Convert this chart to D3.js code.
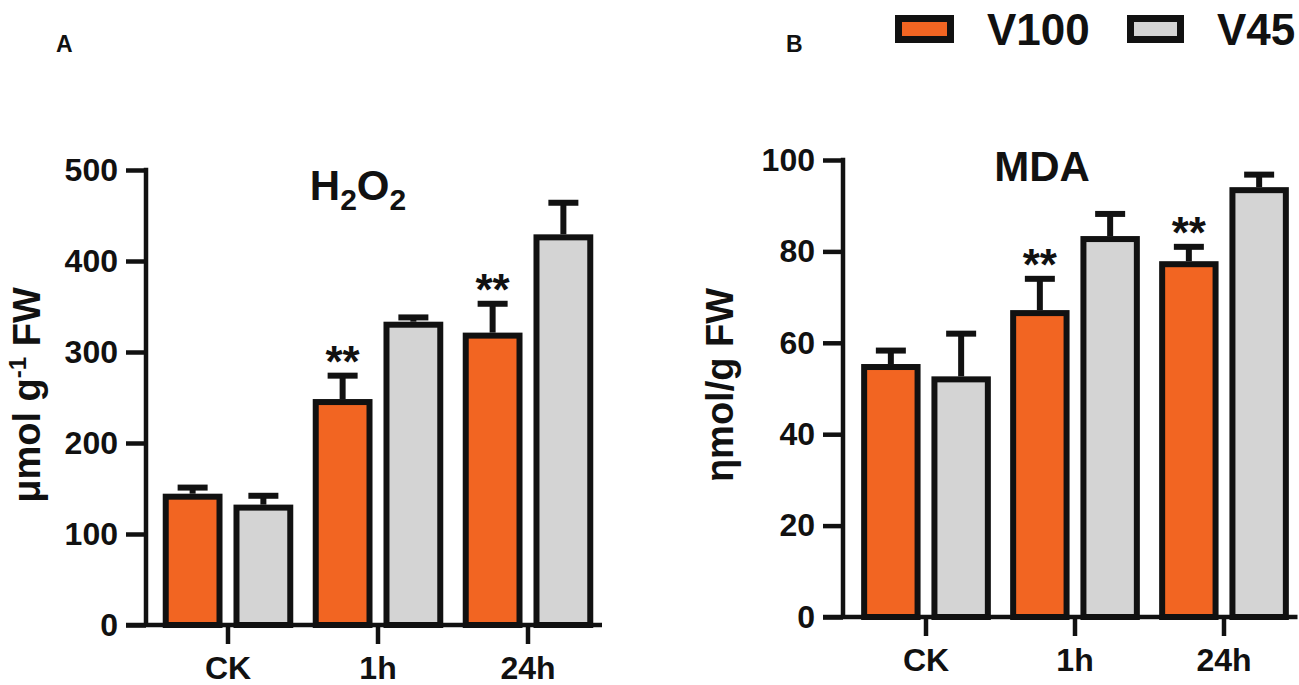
<!DOCTYPE html>
<html>
<head>
<meta charset="utf-8">
<script src="https://cdn.jsdelivr.net/npm/d3@7"></script>
<style>
  body { margin: 0; background: #fff; }
  svg { display: block; }
  text { font-family: "Liberation Sans", Arial, sans-serif; font-weight: bold; fill: #111; }
</style>
</head>
<body>
<svg id="chart" width="1299" height="685"></svg>
<script>
var categories = ["CK", "1h", "24h"];
var series = ["V100", "V45"];
var colors = ["#F26522", "#D4D4D4"];

// H2O2 (umol g-1 FW)
var h2o2V100 = [141, 245, 318];
var h2o2V100Err = [10, 29, 35];
var h2o2V45 = [129, 330, 426];
var h2o2V45Err = [13, 8, 38];
var h2o2Ticks = [0, 100, 200, 300, 400, 500];
var h2o2Stars = [false, true, true]; // on V100 bars

// MDA (nmol/g FW)
var mdaV100 = [54.7, 66.5, 77.2];
var mdaV100Err = [3.6, 7.5, 3.8];
var mdaV45 = [52, 82.7, 93.4];
var mdaV45Err = [10, 5.5, 3.4];
var mdaTicks = [0, 20, 40, 60, 80, 100];
var mdaStars = [false, true, true];

var svg = d3.select("#chart");
var ink = "#111";

function drawPanel(p) {
  var g = svg.append("g");
  var y = d3.scaleLinear().domain([0, p.max]).range([p.bottom, p.top]);
  var x0 = d3.scaleBand().domain(categories).range([p.left, p.right]);
  var x1 = d3.scaleBand().domain(series).range([0, x0.bandwidth()])
      .paddingInner(0.24).paddingOuter(0.18);

  var rows = [];
  categories.forEach(function(c, i) {
    series.forEach(function(s, j) {
      rows.push({cat: c, ser: s, j: j, v: p.vals[j][i], e: p.errs[j][i],
                 star: j === 0 && p.stars[i]});
    });
  });

  var bar = g.selectAll("g.bar").data(rows).enter().append("g").attr("class", "bar");

  bar.append("rect")
      .attr("x", function(d) { return x0(d.cat) + x1(d.ser); })
      .attr("y", function(d) { return y(d.v); })
      .attr("width", x1.bandwidth())
      .attr("height", function(d) { return y(0) - y(d.v); })
      .attr("fill", function(d) { return colors[d.j]; })
      .attr("stroke", ink)
      .attr("stroke-width", 6);

  // error bars, upward only
  bar.append("line")
      .attr("x1", function(d) { return x0(d.cat) + x1(d.ser) + x1.bandwidth() / 2; })
      .attr("x2", function(d) { return x0(d.cat) + x1(d.ser) + x1.bandwidth() / 2; })
      .attr("y1", function(d) { return y(d.v) - 3; })
      .attr("y2", function(d) { return y(d.v + d.e); })
      .attr("stroke", ink).attr("stroke-width", 6);
  bar.append("line")
      .attr("x1", function(d) { return x0(d.cat) + x1(d.ser) + x1.bandwidth() / 2 - 15; })
      .attr("x2", function(d) { return x0(d.cat) + x1(d.ser) + x1.bandwidth() / 2 + 15; })
      .attr("y1", function(d) { return y(d.v + d.e); })
      .attr("y2", function(d) { return y(d.v + d.e); })
      .attr("stroke", ink).attr("stroke-width", 6);

  bar.filter(function(d) { return d.star; }).append("text")
      .attr("x", function(d) { return x0(d.cat) + x1(d.ser) + x1.bandwidth() / 2; })
      .attr("y", function(d) { return y(d.v + d.e) + 1; })
      .attr("text-anchor", "middle")
      .attr("font-size", 44)
      .text("**");

  // y axis
  var ya = g.append("g")
      .attr("transform", "translate(" + p.axisX + ",0)")
      .call(d3.axisLeft(y).tickValues(p.ticks).tickSize(20).tickSizeOuter(0).tickPadding(8));
  ya.select(".domain").remove();
  ya.selectAll("line").attr("stroke", ink).attr("stroke-width", 4.5);
  ya.selectAll("text").attr("font-size", 32).attr("font-family", null).attr("fill", ink);
  ya.append("line")
      .attr("x1", 0).attr("x2", 0)
      .attr("y1", y(p.max) - 2.25).attr("y2", y(0))
      .attr("stroke", ink).attr("stroke-width", 4.5);

  // x axis
  var xa = g.append("g")
      .attr("transform", "translate(0," + y(0) + ")")
      .call(d3.axisBottom(x0).tickSize(19).tickSizeOuter(0).tickPadding(12));
  xa.select(".domain").remove();
  xa.selectAll("line").attr("stroke", ink).attr("stroke-width", 4.5);
  xa.selectAll("text").attr("font-size", 32).attr("font-family", null).attr("fill", ink);
  xa.append("line")
      .attr("x1", p.axisX - 20).attr("x2", p.right - 1)
      .attr("y1", 0).attr("y2", 0)
      .attr("stroke", ink).attr("stroke-width", 4.5);

  // y label
  var ylab = g.append("text")
      .attr("transform", "translate(" + p.ylabX + "," + p.ylabY + ") rotate(-90)")
      .attr("text-anchor", "middle")
      .attr("font-size", 38);
  p.ylab(ylab);

  // title
  var t = g.append("text")
      .attr("x", p.titleX).attr("y", p.titleY)
      .attr("text-anchor", "middle")
      .attr("font-size", 42);
  p.title(t);

  g.append("text").attr("x", p.tagX).attr("y", 52).attr("font-size", 23).text(p.tag);
}

drawPanel({
  max: 500, ticks: h2o2Ticks, top: 170, bottom: 625,
  left: 153, right: 603, axisX: 146,
  vals: [h2o2V100, h2o2V45], errs: [h2o2V100Err, h2o2V45Err], stars: h2o2Stars,
  ylabX: 40, ylabY: 395,
  ylab: function(t) {
    t.append("tspan").text("\u03bcmol g");
    t.append("tspan").attr("font-size", 24).attr("dy", -14).text("-1");
    t.append("tspan").attr("dy", 14).text(" FW");
  },
  titleX: 358, titleY: 200,
  title: function(t) {
    t.append("tspan").text("H");
    t.append("tspan").attr("font-size", 30).attr("dy", 10).text("2");
    t.append("tspan").attr("dy", -10).text("O");
    t.append("tspan").attr("font-size", 30).attr("dy", 10).text("2");
  },
  tag: "A", tagX: 56
});

drawPanel({
  max: 100, ticks: mdaTicks, top: 160, bottom: 617,
  left: 851.5, right: 1298.5, axisX: 843,
  vals: [mdaV100, mdaV45], errs: [mdaV100Err, mdaV45Err], stars: mdaStars,
  ylabX: 733, ylabY: 385,
  ylab: function(t) { t.text("\u03b7mol/g FW"); },
  titleX: 1042, titleY: 181,
  title: function(t) { t.text("MDA"); },
  tag: "B", tagX: 786
});

// legend
var legend = svg.append("g");
var legX = [898.5, 1130.5];
var legW = [52, 50];
var legTextX = [987, 1217];
series.forEach(function(s, i) {
  legend.append("rect")
      .attr("x", legX[i]).attr("y", 18.5)
      .attr("width", legW[i]).attr("height", 21)
      .attr("fill", colors[i]).attr("stroke", ink).attr("stroke-width", 7);
  legend.append("text")
      .attr("x", legTextX[i]).attr("y", 45)
      .attr("font-size", 44)
      .text(s);
});
</script>
</body>
</html>
